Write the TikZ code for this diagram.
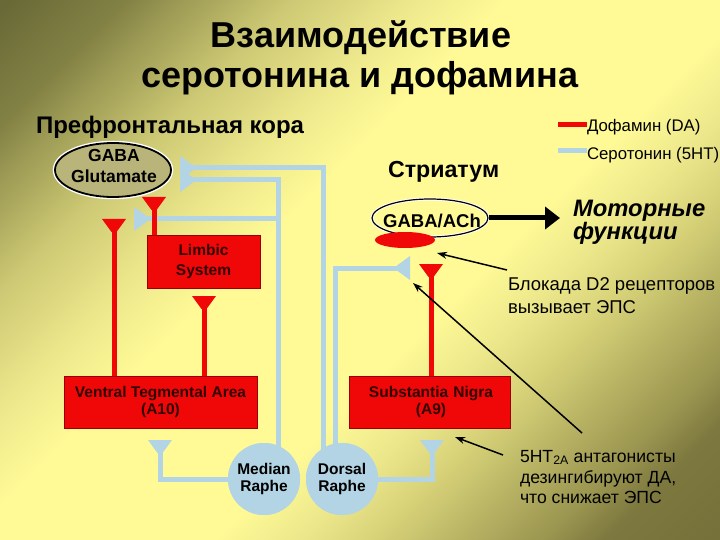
\documentclass[tikz,border=0pt]{standalone}
\usepackage{fontspec}
\setmainfont{Liberation Sans}
\usetikzlibrary{arrows.meta,shapes.geometric}
\definecolor{bgdark}{RGB}{105,105,55}
\definecolor{bgt785}{RGB}{130,129,68}
\definecolor{bgt755}{RGB}{155,153,84}
\definecolor{bgt71}{RGB}{190,187,106}
\definecolor{bgt69}{RGB}{205,201,116}
\definecolor{bgt625}{RGB}{236,231,139}
\definecolor{bgdarkb}{RGB}{118,113,58}
\definecolor{bgb21}{RGB}{125,120,62}
\definecolor{bgb245}{RGB}{155,150,80}
\definecolor{bgb27}{RGB}{170,165,90}
\definecolor{bgb34}{RGB}{215,210,120}
\definecolor{bgb38}{RGB}{235,230,138}
\definecolor{bglight}{RGB}{255,250,150}
\definecolor{dared}{RGB}{240,8,8}
\definecolor{sero}{RGB}{178,212,228}
\definecolor{boxtext}{RGB}{50,0,0}
\definecolor{ovalfill}{RGB}{185,180,122}
\pgfdeclareverticalshading{bgshade}{100bp}{color(0bp)=(bgdarkb); color(15bp)=(bgdarkb); color(21bp)=(bgb21); color(24.5bp)=(bgb245); color(27bp)=(bgb27); color(34bp)=(bgb34); color(38bp)=(bgb38); color(43bp)=(bglight); color(57bp)=(bglight); color(62.5bp)=(bgt625); color(69bp)=(bgt69); color(71bp)=(bgt71); color(75.5bp)=(bgt755); color(78.5bp)=(bgt785); color(85bp)=(bgdark); color(100bp)=(bgdark)}
\begin{document}
\begin{tikzpicture}[x=1pt,y=-1pt,
  tx/.style={inner sep=0pt, outer sep=0pt},
  bigb/.style={tx, font=\bfseries\fontsize{24}{26}\selectfont},
  lbl/.style={tx, font=\fontsize{16.8}{18}\selectfont},
  note/.style={tx, font=\fontsize{18.5}{20}\selectfont},
  notec/.style={tx, font=\fontsize{17.6}{20}\selectfont},
  redbox/.style={rectangle, fill=dared, draw=red!60!black, line width=0.8pt, text=boxtext, align=center, font=\bfseries\fontsize{15.5}{17}\selectfont, inner sep=0pt},
  raphe/.style={circle, fill=sero, minimum size=72pt, inner sep=0pt, align=center, font=\bfseries\fontsize{15.5}{17}\selectfont},
  redln/.style={draw=dared, line width=5pt},
  bluln/.style={draw=sero, line width=5pt},
  thinarr/.style={draw=black, line width=1.5pt, -{Stealth[length=10pt,width=7pt]}},
  synterm/.pic={\fill (-12,0) -- (12,0) -- (2.5,13) -- (-2.5,13) -- cycle;}
]
% background
\shade[shading=bgshade, shading angle=45] (0,0) rectangle (720,540);

% titles
\node[tx, font=\bfseries\fontsize{36}{40}\selectfont, anchor=base] (title1) at (361,48) {Взаимодействие};
\node[tx, font=\bfseries\fontsize{36}{40}\selectfont, anchor=base] (title2) at (360,88) {серотонина и дофамина};
\node[bigb, anchor=base west] (pfc) at (36,134) {Префронтальная кора};
\node[bigb, anchor=base west, font=\bfseries\fontsize{23.2}{26}\selectfont] (str) at (388,178) {Стриатум};

% legend
\node[lbl, anchor=base west] (legda) at (587,132) {Дофамин (DA)};
\node[lbl, anchor=base west] (leght) at (587,160) {Серотонин (5HT)};
\coordinate (lr) at (558,125);
\coordinate (lb) at (558,151);
\draw[redln] (lr) -- (lr -| legda.west);
\draw[bluln] (lb) -- (lb -| leght.west);

% boxes
\node[redbox, minimum width=113pt, minimum height=53pt, font=\bfseries\fontsize{15.5}{20}\selectfont] (limbic) at (203.5,261.5) {Limbic\\System};
\node[redbox, minimum width=193pt, minimum height=52pt] (vta) at (160.5,402) {Ventral Tegmental Area\\(A10)};
\node[redbox, minimum width=161pt, minimum height=52pt, text width=161pt] (sn) at (429.5,402) {\hspace*{3pt}Substantia Nigra\\\hspace*{3pt}(A9)};

% serotonin pathways
\coordinate (b1) at (190,168);
\coordinate (b2) at (190,180);
\coordinate (b3) at (145,219);
\coordinate (b4) at (400,268);
\coordinate (vtat) at (160,450);
\coordinate (snt) at (432,450);
\draw[bluln] (b1) -- (323,168) -- (323,465);
\draw[bluln] (b2) -- (278,180) -- (278,465);
\draw[bluln] (b3) -- (278,219);
\draw[bluln] (b4) -- (335,268) -- (335,465);
\node[raphe] (mr) at (264,479) {Median\\Raphe};
\node[raphe] (dr) at (342,479) {Dorsal\\Raphe};
\draw[bluln] (mr.west) -- (mr.west -| vtat) -- (vtat);
\draw[bluln] (dr.east) -- (dr.east -| snt) -- (snt);
\pic[sero, rotate=90] at (180,168) {synterm};
\pic[sero, rotate=90] at (180,180) {synterm};
\pic[sero, rotate=90] at (134,219) {synterm};
\pic[sero, rotate=-90] at (410,268) {synterm};
\pic[sero] at (160,440) {synterm};
\pic[sero] at (432,440) {synterm};
\node[raphe] at (mr) {Median\\Raphe};
\node[raphe] at (dr) {Dorsal\\Raphe};

% dopamine pathways
\coordinate (rt1) at (154,207);
\coordinate (rt2) at (114,229);
\coordinate (rt3) at (204,306);
\coordinate (rt4) at (431,274);
\draw[redln] (rt1) -- (rt1 |- limbic.north);
\draw[redln] (rt2) -- (rt2 |- vta.north);
\draw[redln] (rt3) -- (rt3 |- vta.north);
\draw[redln] (rt4) -- (rt4 |- sn.north);
\pic[dared] at (154,197) {synterm};
\pic[dared] at (114,219) {synterm};
\pic[dared] at (204,296) {synterm};
\pic[dared] at (431,264) {synterm};

% cortex ellipse
\node[ellipse, minimum width=116pt, minimum height=54pt, fill=ovalfill, draw=black, line width=1.8pt, preaction={draw=white, line width=4.5pt}] (glu) at (113,170) {};
\node[tx, font=\bfseries\fontsize{17.5}{20}\selectfont, anchor=base] (gaba1) at (114,162) {GABA};
\node[tx, font=\bfseries\fontsize{17.5}{20}\selectfont, anchor=base] (glut) at (114,183) {Glutamate};

% striatum
\node[ellipse, minimum width=116pt, minimum height=38pt, draw=black, line width=1.2pt, preaction={draw=white, line width=3pt}] (gach) at (430,218) {};
\node[tx, font=\bfseries\fontsize{18.5}{20}\selectfont, anchor=base] (gachtxt) at (432,227) {GABA/ACh};
\node[ellipse, minimum width=60pt, minimum height=16pt, fill=dared, inner sep=0pt] (d2) at (405,240) {};
\coordinate (motarr) at (560,218);
\draw[line width=5pt, -{Triangle[length=15pt,width=22pt]}] (gach.east) -- (motarr);
\node[tx, font=\bfseries\itshape\fontsize{23.8}{26}\selectfont, anchor=base west] (mot1) at (573,217) {Моторные};
\node[tx, font=\bfseries\itshape\fontsize{23.8}{26}\selectfont, anchor=base west] (mot2) at (573,240) {функции};

% notes
\node[note, anchor=base west] (blk1) at (508,290) {Блокада D2 рецепторов};
\node[note, anchor=base west] (blk2) at (508,313) {вызывает ЭПС};
\node[notec, anchor=base west] (ant1) at (520,462) {5HT\textsubscript{2A} антагонисты};
\node[notec, anchor=base west] (ant2) at (520,483) {дезингибируют ДА,};
\node[notec, anchor=base west] (ant3) at (520,503) {что снижает ЭПС};
\coordinate (a1s) at (507,270);
\coordinate (a1e) at (437,253);
\coordinate (a2s) at (582,433);
\coordinate (a2e) at (413,283);
\coordinate (a3s) at (503,455);
\coordinate (a3e) at (455,437);
\draw[thinarr] (a1s) -- (a1e);
\draw[thinarr] (a2s) -- (a2e);
\draw[thinarr] (a3s) -- (a3e);
\end{tikzpicture}
\end{document}
